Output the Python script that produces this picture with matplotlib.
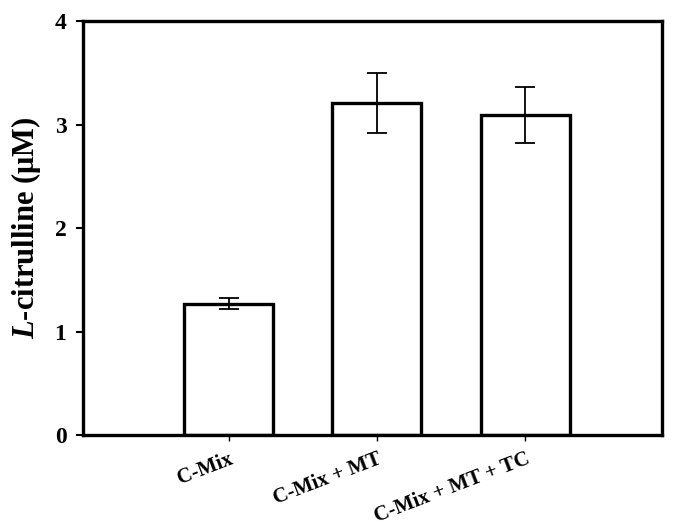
import matplotlib.pyplot as plt

groups = ['C-Mix', 'C-Mix + MT', 'C-Mix + MT + TC']
citrulline = [1.27, 3.21, 3.09]
errors = [0.05, 0.29, 0.27]

plt.rcParams['font.family'] = ['Liberation Serif', 'DejaVu Serif']
plt.rcParams['font.weight'] = 'bold'
plt.rcParams['mathtext.fontset'] = 'custom'
plt.rcParams['mathtext.it'] = 'Liberation Serif:bold:italic'

fig = plt.figure(figsize=(6.76, 5.26), dpi=100)
ax = fig.add_axes([0.123, 0.173, 0.856, 0.787])

x = range(len(groups))
ax.bar(x, citrulline, width=0.6, color='white', edgecolor='black', linewidth=2.4,
       yerr=errors, error_kw=dict(ecolor='black', elinewidth=1.3, capsize=7, capthick=1.3))

ax.set_xlim(-0.98, 2.92)
ax.set_ylim(0, 4)
ax.set_yticks([0, 1, 2, 3, 4])
ax.set_xticks(list(x))
ax.set_xticklabels(groups, rotation=21, ha='right', rotation_mode='anchor', fontsize=15)
ax.tick_params(axis='y', labelsize=17, length=5, width=1.5, direction='out', pad=7)
ax.tick_params(axis='x', length=4, width=1, direction='out', pad=6)
for lab in ax.get_yticklabels() + ax.get_xticklabels():
    lab.set_fontweight('bold')

for s in ax.spines.values():
    s.set_linewidth(2.4)

ax.set_ylabel(r'$\mathit{L}$-citrulline (μM)', fontsize=22, fontweight='bold', labelpad=8)

fig.savefig('out.png', dpi=100)
